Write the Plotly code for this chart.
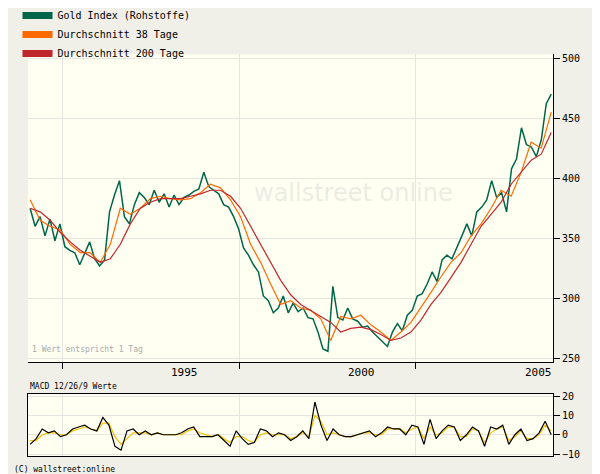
import numpy as np
import plotly.graph_objects as go

gold = [375,360,368,352,366,348,362,343,340,338,328,337,347,333,327,332,372,386,398,368,
        362,378,388,384,378,390,380,387,376,386,378,384,386,389,391,405,393,390,387,378,
        376,368,358,342,336,328,322,302,298,288,292,302,288,296,289,292,284,283,272,258,
        256,310,284,282,292,283,281,276,277,272,268,264,260,272,279,273,286,290,302,304,
        312,322,314,332,336,333,342,352,362,352,372,376,382,398,384,388,372,408,416,442,
        428,426,418,432,462,470]
ma38 = [382,365,360,357,345,338,338,330,345,375,370,375,383,385,383,382,383,388,395,392,
        382,368,345,330,312,295,298,292,290,283,265,285,283,286,278,272,265,272,280,292,
        305,318,330,338,352,362,375,390,385,405,430,425,455]
ma200 = [375,372,365,355,347,340,335,330,333,345,362,375,380,383,383,383,385,387,390,390,
         385,375,360,345,330,315,303,295,290,285,280,272,275,276,274,270,265,267,272,282,
         295,305,318,330,345,360,370,380,395,405,415,420,438]
macd = [-5,-2,3,1,2,-1,0,3,4,5,3,2,9,5,-6,-8,2,3,0,2,0,1,0,0,0,1,3,4,-1,-1,-1,0,-3,-6,2,-2,
        -5,-4,3,2,-1,1,0,-3,-1,2,-2,17,5,-3,3,0,-1,-1,0,1,2,-1,1,4,3,3,0,5,4,-5,8,-2,2,5,4,
        -3,0,4,2,-6,4,3,5,-5,0,3,-3,-2,1,7,0]
signal = [-3,-3,0,1,1,0,0,2,3,4,3,2,6,6,-1,-5,-2,1,1,1,0,1,0,0,0,0,2,3,1,0,-1,0,-2,-4,-1,-1,
          -3,-4,0,1,0,0,0,-2,-1,1,-1,10,7,0,1,0,-1,-1,0,1,1,0,0,3,3,3,1,3,4,-2,4,0,1,4,4,
          -1,-1,3,2,-4,1,3,4,-3,-1,2,-2,-2,0,5,2]
year_ticks = [1995, 2000, 2005]
year_labels = ["1995", "2000", "2005"]
price_ticks = [250, 300, 350, 400, 450, 500]
macd_ticks = [-10, 0, 10, 20]

x0, x1 = 1990.65, 2005.37
xg = np.linspace(x0, x1, len(gold))
xa = np.linspace(x0, x1, len(ma38))
xm = np.linspace(x0, x1, len(macd))

font = dict(family="DejaVu Sans Mono", size=10, color="#000")
fig = go.Figure()
fig.add_trace(go.Scatter(x=xg, y=gold, mode="lines", line=dict(color="#00664a", width=1.5), showlegend=False))
fig.add_trace(go.Scatter(x=xa, y=ma38, mode="lines", line=dict(color="#ff6a00", width=1.2), showlegend=False))
fig.add_trace(go.Scatter(x=xa, y=ma200, mode="lines", line=dict(color="#c0272d", width=1.2), showlegend=False))
fig.add_trace(go.Scatter(x=xm, y=signal, mode="lines", line=dict(color="#f5c000", width=1.2), xaxis="x2", yaxis="y2", showlegend=False))
fig.add_trace(go.Scatter(x=xm, y=macd, mode="lines", line=dict(color="#000", width=1.2), xaxis="x2", yaxis="y2", showlegend=False))
for name, c in [("Gold Index (Rohstoffe)", "#00664a"), ("Durchschnitt 38 Tage", "#ff6a00"), ("Durchschnitt 200 Tage", "#c0272d")]:
    fig.add_trace(go.Scatter(x=[None], y=[None], mode="lines", name=name, line=dict(color=c, width=7)))

xr = [1990.59, 2005.42]
grid = [1991.56, 1996.56, 2001.53]
fig.update_layout(
    width=600, height=474, margin=dict(l=20, r=55, t=0, b=0, autoexpand=False),
    paper_bgcolor="#f0efe8", plot_bgcolor="#fffff2", font=font,
    legend=dict(x=-0.02, y=1.015, xanchor="left", yanchor="top", bgcolor="rgba(0,0,0,0)",
                font=dict(family="DejaVu Sans Mono", size=10), itemwidth=30, tracegroupgap=0),
    xaxis=dict(domain=[0, 1], range=xr, tickvals=grid, ticktext=["", "", ""], showgrid=True,
               gridcolor="#e6e6e0", ticks="outside", ticklen=6, tickcolor="#000",
               showline=True, linecolor="#000", zeroline=False),
    yaxis=dict(domain=[0.253, 0.902], range=[247, 503], side="right", tickvals=price_ticks,
               showgrid=True, gridcolor="#e6e6e0", ticks="outside", ticklen=6, tickcolor="#000",
               showline=True, linecolor="#000", zeroline=False, mirror=False),
    xaxis2=dict(domain=[0, 1], range=xr, anchor="y2", tickvals=grid, showticklabels=False,
                showgrid=True, gridcolor="#e6e6e0", showline=True, linecolor="#000", mirror=True, zeroline=False),
    yaxis2=dict(domain=[0.055, 0.185], range=[-11, 21], side="right", tickvals=macd_ticks,
                showgrid=True, gridcolor="#e6e6e0", ticks="outside", ticklen=6, tickcolor="#000",
                showline=True, linecolor="#000", mirror=True, zeroline=False, anchor="x2"),
)
for v, t in zip(year_ticks, year_labels):
    fig.add_annotation(x=v, y=0.232, xref="x", yref="paper", text=t, showarrow=False,
                       font=dict(family="DejaVu Sans Mono", size=11), yanchor="middle")
fig.add_annotation(x=0.62, y=0.61, xref="paper", yref="paper", text="wallstreet online", showarrow=False,
                   font=dict(family="DejaVu Sans", size=24, color="rgba(200,200,200,0.35)"))
fig.add_annotation(x=0.003, y=0.266, xref="paper", yref="paper", text="1 Wert entspricht 1 Tag", showarrow=False,
                   xanchor="left", font=dict(family="DejaVu Sans Mono", size=8, color="#aaa"))
fig.add_annotation(x=0.0, y=0.188, xref="paper", yref="paper", text="MACD 12/26/9 Werte", showarrow=False,
                   xanchor="left", yanchor="bottom", font=dict(family="DejaVu Sans Mono", size=8))
fig.add_annotation(x=-0.03, y=0.012, xref="paper", yref="paper", text="(C) wallstreet:online", showarrow=False,
                   xanchor="left", yanchor="bottom", font=dict(family="DejaVu Sans Mono", size=8))
fig.write_html("out.html")
